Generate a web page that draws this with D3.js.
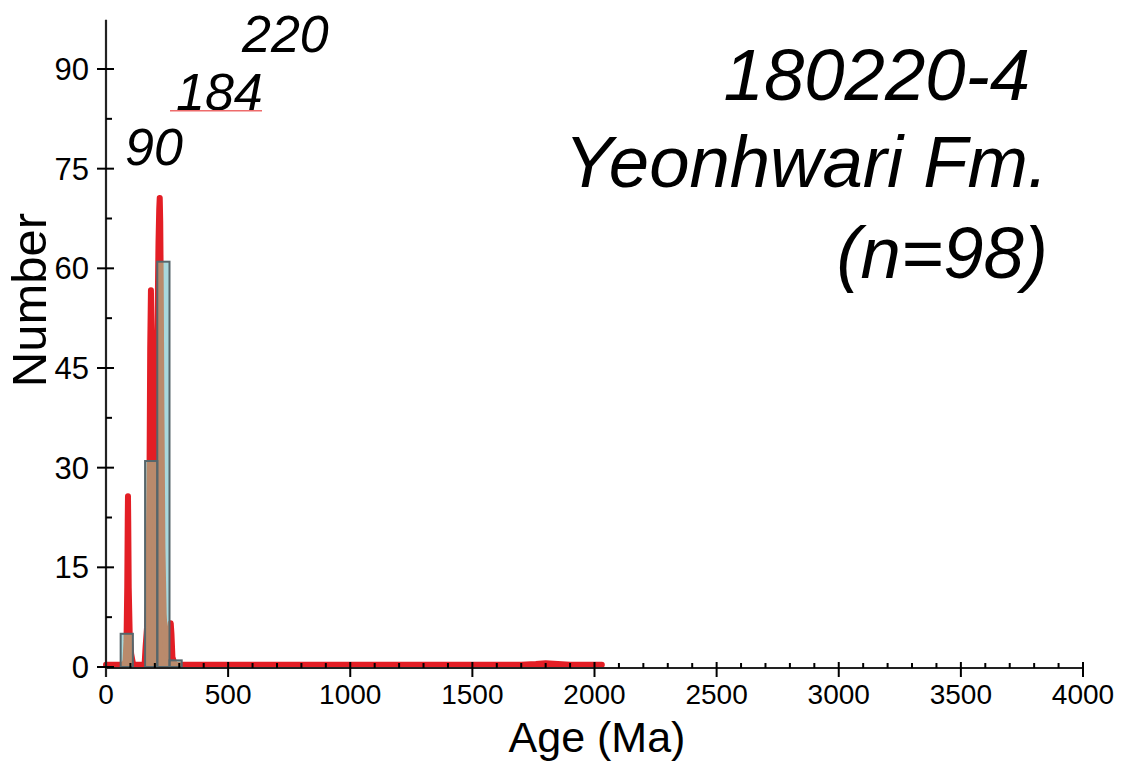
<!DOCTYPE html>
<html>
<head>
<meta charset="utf-8">
<script src="https://cdn.jsdelivr.net/npm/d3@7"></script>
<style>
  html, body { margin: 0; padding: 0; background: #fff; }
  svg { display: block; }
  text { font-family: "Liberation Sans", Arial, sans-serif; fill: #000; }
</style>
</head>
<body>
<svg id="chart" width="1126" height="767"></svg>
<script>
// ---- Data ----
const binStart = [60, 160, 210, 260];
const binEnd   = [110, 210, 260, 310];
const binCount = [5, 31, 61, 1];

// probability density curve, scaled to counts
const pdpAge = [0, 75, 80, 84, 87, 89, 90, 91, 93, 97, 103, 110, 115, 158, 162, 168, 174, 178, 181, 184, 186, 189, 194, 200, 206, 211, 215, 218, 220, 222, 224, 227, 231, 236, 244, 252, 259, 262, 265, 268, 272, 280, 290, 1700, 1760, 1800, 1850, 1900, 2030];
const pdpVal = [0.35, 0.35, 1, 4, 12, 22, 25.7, 22, 12, 5, 2, 0.6, 0.35, 0.35, 3, 6, 12, 28, 48, 56.7, 50, 32, 25, 30, 40, 52, 64, 69, 70.6, 67, 58, 38, 18, 8, 3, 2, 3, 5.5, 6.6, 5, 1.5, 0.5, 0.35, 0.35, 0.45, 0.55, 0.45, 0.35, 0.35];

const xTickValues = [0, 500, 1000, 1500, 2000, 2500, 3000, 3500, 4000];
const yTickValues = [0, 15, 30, 45, 60, 75, 90];
const peakLabels = ["90", "184", "220"];
const titleLines = ["180220-4", "Yeonhwari Fm.", "(n=98)"];

// ---- Layout ----
const svg = d3.select("#chart");
const x = d3.scaleLinear().domain([0, 4000]).range([106, 1083]);
const y = d3.scaleLinear().domain([0, 90]).range([667, 69]);
const yTop = 97.4;

const bins = binCount.map((c, i) => ({x0: binStart[i], x1: binEnd[i], n: c}));
const pdp = pdpAge.map((a, i) => ({a, v: pdpVal[i]}));

const RED = "#e31e25", BLUE = "#a8d8dd", BROWN = "#b98a6c", BARSTROKE = "#56666b";

const area = d3.area().x(d => x(d.a)).y0(y(0)).y1(d => y(d.v)).curve(d3.curveLinear);
const line = d3.line().x(d => x(d.a)).y(d => y(d.v)).curve(d3.curveLinear);

// clip path from bars
const defs = svg.append("defs");
defs.append("clipPath").attr("id", "barclip")
  .selectAll("rect").data(bins).join("rect")
  .attr("x", d => x(d.x0)).attr("width", d => x(d.x1) - x(d.x0))
  .attr("y", d => y(d.n)).attr("height", d => y(0) - y(d.n));

// red pdp (under)
svg.append("path").datum(pdp).attr("d", area).attr("fill", RED);
svg.append("path").datum(pdp).attr("d", line)
  .attr("fill", "none").attr("stroke", RED).attr("stroke-width", 6)
  .attr("stroke-linejoin", "round").attr("stroke-linecap", "round");

// bars fill
svg.append("g").selectAll("rect").data(bins).join("rect")
  .attr("x", d => x(d.x0)).attr("width", d => x(d.x1) - x(d.x0))
  .attr("y", d => y(d.n)).attr("height", d => y(0) - y(d.n))
  .attr("fill", BLUE);

// pdp seen through bars (brown)
const gb = svg.append("g").attr("clip-path", "url(#barclip)");
gb.append("path").datum(pdp).attr("d", area).attr("fill", BROWN);
gb.append("path").datum(pdp).attr("d", line)
  .attr("fill", "none").attr("stroke", BROWN).attr("stroke-width", 6)
  .attr("stroke-linejoin", "round").attr("stroke-linecap", "round");

// bars stroke
svg.append("g").selectAll("rect").data(bins).join("rect")
  .attr("x", d => x(d.x0)).attr("width", d => x(d.x1) - x(d.x0))
  .attr("y", d => y(d.n)).attr("height", d => y(0) - y(d.n))
  .attr("fill", "none").attr("stroke", BARSTROKE).attr("stroke-width", 2);

// ---- X axis ----
const gx = svg.append("g").attr("transform", `translate(0,${y(0) + 1})`);
gx.append("line").attr("x1", x(0)).attr("x2", x(4000)).attr("y1", 0).attr("y2", 0)
  .attr("stroke", "#222").attr("stroke-width", 2.2);
const minorX = d3.range(0, 4001, 100).filter(v => v % 500 !== 0);
gx.selectAll("line.minor").data(minorX).join("line").attr("class", "minor")
  .attr("x1", d => x(d)).attr("x2", d => x(d)).attr("y1", -5).attr("y2", 0)
  .attr("stroke", "#000").attr("stroke-width", 2);
gx.selectAll("line.major").data(xTickValues).join("line").attr("class", "major")
  .attr("x1", d => x(d)).attr("x2", d => x(d)).attr("y1", -6).attr("y2", 9)
  .attr("stroke", "#000").attr("stroke-width", 2);
gx.selectAll("text").data(xTickValues).join("text")
  .attr("x", d => x(d)).attr("y", 36)
  .attr("text-anchor", "middle").attr("font-size", 28)
  .text(d => d);
svg.append("text").attr("x", 597).attr("y", 752).attr("text-anchor", "middle")
  .attr("font-size", 43).text("Age (Ma)");

// ---- Y axis ----
const gy = svg.append("g").attr("transform", `translate(${x(0)},0)`);
gy.append("line").attr("x1", 0).attr("x2", 0).attr("y1", y(yTop)).attr("y2", y(0) + 10)
  .attr("stroke", "#222").attr("stroke-width", 2.2);
const minorY = d3.range(7.5, 90, 15);
gy.selectAll("line.minor").data(minorY).join("line").attr("class", "minor")
  .attr("x1", 0).attr("x2", 6).attr("y1", d => y(d)).attr("y2", d => y(d))
  .attr("stroke", "#000").attr("stroke-width", 2);
gy.selectAll("line.major").data(yTickValues).join("line").attr("class", "major")
  .attr("x1", -9).attr("x2", 8).attr("y1", d => y(d)).attr("y2", d => y(d))
  .attr("stroke", "#000").attr("stroke-width", 2);
gy.selectAll("text").data(yTickValues).join("text")
  .attr("x", -17).attr("y", d => y(d)).attr("dy", "0.36em")
  .attr("text-anchor", "end").attr("font-size", 31)
  .text(d => d);
svg.append("text").attr("transform", "translate(46,300) rotate(-90)")
  .attr("text-anchor", "middle").attr("font-size", 49).text("Number");

// ---- Peak labels ----
const peakPos = [[125, 165], [176, 110], [242, 52]];
svg.selectAll("text.peak").data(peakLabels).join("text").attr("class", "peak")
  .attr("x", (d, i) => peakPos[i][0]).attr("y", (d, i) => peakPos[i][1])
  .attr("font-size", 52).attr("font-style", "italic").text(d => d);
svg.append("line").attr("x1", 170).attr("x2", 262).attr("y1", 110.7).attr("y2", 110.7)
  .attr("stroke", "#ee6b6b").attr("stroke-width", 1.5);

// ---- Title ----
const titleX = [1030, 1048, 1048];
const titleY = [100, 187, 278];
svg.selectAll("text.title").data(titleLines).join("text").attr("class", "title")
  .attr("x", (d, i) => titleX[i]).attr("y", (d, i) => titleY[i])
  .attr("text-anchor", "end").attr("font-size", 72.5).attr("font-style", "italic")
  .text(d => d);
</script>
</body>
</html>
